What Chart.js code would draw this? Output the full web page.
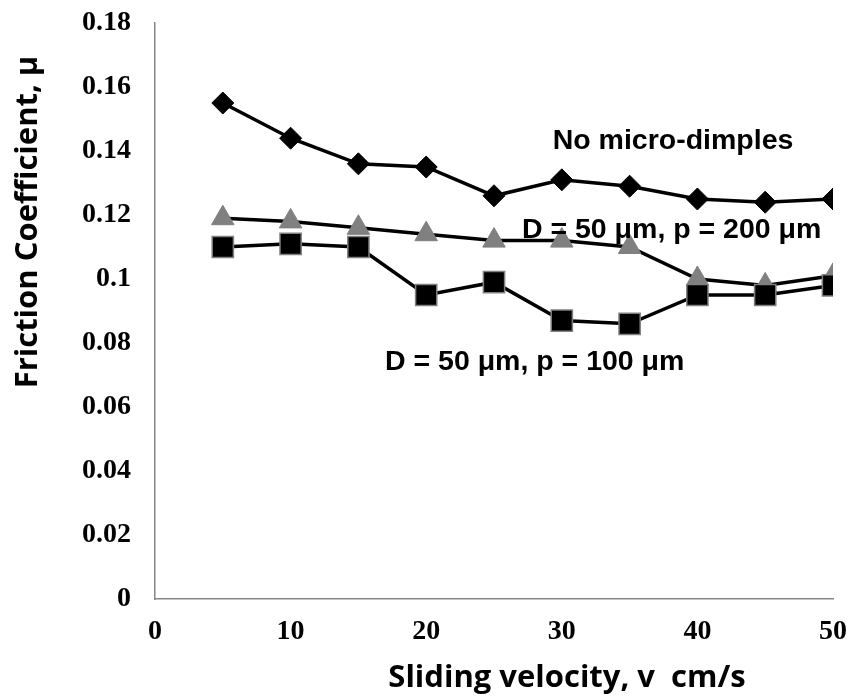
<!DOCTYPE html>
<html>
<head>
<meta charset="utf-8">
<script src="https://cdn.jsdelivr.net/npm/chart.js@4/dist/chart.umd.min.js"></script>
<style>
  html, body { margin: 0; padding: 0; background: #fff; }
  #wrap { width: 850px; height: 699px; position: relative; }
</style>
</head>
<body>
<div id="wrap"><canvas id="c" width="850" height="699"></canvas></div>
<script>
// ---- data ----
const velocities = [5, 10, 15, 20, 25, 30, 35, 40, 45, 50];
const noDimples = [0.155, 0.144, 0.136, 0.135, 0.126, 0.131, 0.129, 0.125, 0.124, 0.125];
const p100 = [0.110, 0.111, 0.110, 0.095, 0.099, 0.087, 0.086, 0.095, 0.095, 0.098];
const p200 = [0.119, 0.118, 0.116, 0.114, 0.112, 0.112, 0.110, 0.100, 0.098, 0.101];
const seriesNames = ["No micro-dimples", "D = 50 \u03bcm, p = 100 \u03bcm", "D = 50 \u03bcm, p = 200 \u03bcm"];
const yTickLabels = ["0", "0.02", "0.04", "0.06", "0.08", "0.1", "0.12", "0.14", "0.16", "0.18"];
const xTickLabels = ["0", "10", "20", "30", "40", "50"];
const xTitle = "Sliding velocity, v  cm/s";
const yTitle = "Friction Coefficient, \u03bc";
// annotation anchors in data units
const labelX = [38.2, 28.0, 38.1];
const labelY = [0.1431, 0.0741, 0.1153];

const toPts = vals => velocities.map((v, i) => ({ x: v, y: vals[i] }));

const annotPlugin = {
  id: 'annot',
  afterDatasetsDraw(chart) {
    const ctx = chart.ctx;
    const xs = chart.scales.x, ys = chart.scales.y;
    ctx.save();
    ctx.fillStyle = '#000';
    ctx.font = 'bold 28.5px "Liberation Sans", Arial, sans-serif';
    ctx.textAlign = 'center';
    ctx.textBaseline = 'middle';
    seriesNames.forEach((name, i) => {
      ctx.fillText(name, xs.getPixelForValue(labelX[i]), ys.getPixelForValue(labelY[i]));
    });
    // axis titles
    ctx.font = 'bold 31px "Open Sans", Lato, sans-serif';
    ctx.textBaseline = 'alphabetic';
    ctx.fillText(xTitle, 567, 687);
    ctx.translate(37, 222);
    ctx.rotate(-Math.PI / 2);
    ctx.fillText(yTitle, 0, 0);
    ctx.restore();
  }
};

new Chart(document.getElementById('c'), {
  type: 'line',
  data: {
    datasets: [
      {
        label: seriesNames[0],
        data: toPts(noDimples),
        borderColor: '#000',
        borderWidth: 3.5,
        pointStyle: 'rectRot',
        pointRadius: 11,
        pointBackgroundColor: '#000',
        pointBorderColor: '#000',
        pointBorderWidth: 1,
        tension: 0
      },
      {
        label: seriesNames[1],
        data: toPts(p100),
        borderColor: '#000',
        borderWidth: 3.5,
        pointStyle: 'rect',
        pointRadius: 15,
        pointBackgroundColor: '#000',
        pointBorderColor: '#808080',
        pointBorderWidth: 1.5,
        tension: 0
      },
      {
        label: seriesNames[2],
        data: toPts(p200),
        borderColor: '#000',
        borderWidth: 3.5,
        pointStyle: 'triangle',
        pointRadius: 13,
        pointBackgroundColor: '#808080',
        pointBorderColor: '#808080',
        pointBorderWidth: 1,
        tension: 0
      }
    ]
  },
  options: {
    responsive: false,
    animation: false,
    events: [],
    layout: { padding: { left: 0, right: 17, top: 23, bottom: 0 } },
    plugins: { legend: { display: false }, tooltip: { enabled: false } },
    scales: {
      x: {
        type: 'linear',
        min: 0, max: 50,
        afterFit: s => { s.height = 100; s.paddingLeft = 0; s.paddingRight = 0; },
        grid: { display: false, drawTicks: false },
        border: { display: true, color: '#868686', width: 1.5 },
        afterBuildTicks: s => { s.ticks = xTickLabels.map(t => ({ value: Number(t) })); },
        ticks: {
          padding: 16,
          color: '#000',
          font: { family: '"Liberation Serif", "Times New Roman", serif', size: 28, weight: 'bold' },
          callback: (v, i) => xTickLabels[i],
          maxRotation: 0
        }
      },
      y: {
        min: 0, max: 0.18,
        afterFit: s => { s.width = 155; s.paddingTop = 0; s.paddingBottom = 0; },
        grid: { display: false, drawTicks: false },
        border: { display: true, color: '#868686', width: 1.5 },
        afterBuildTicks: s => { s.ticks = yTickLabels.map(t => ({ value: Number(t) })); },
        ticks: {
          padding: 24,
          color: '#000',
          font: { family: '"Liberation Serif", "Times New Roman", serif', size: 28, weight: 'bold' },
          callback: (v, i) => yTickLabels[i]
        }
      }
    }
  },
  plugins: [annotPlugin]
});
</script>
</body>
</html>
